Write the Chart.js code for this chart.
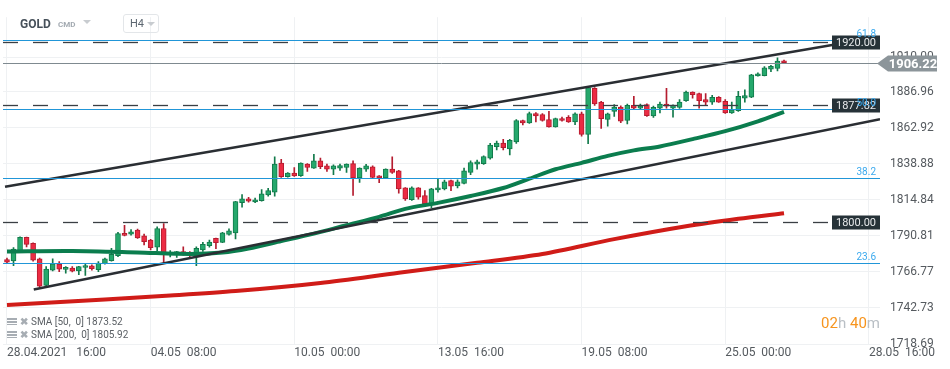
<!DOCTYPE html>
<html>
<head>
<meta charset="utf-8">
<script src="https://cdn.jsdelivr.net/npm/chart.js@4.4.1/dist/chart.umd.min.js"></script>
<style>
body { margin: 0; background: #fff; font-family: Roboto, "Noto Sans", sans-serif; }
#wrap { position: relative; width: 950px; height: 369px; overflow: hidden; }
#chart { position: absolute; left: 0; top: 0; }
.hdr { position: absolute; left: 20px; top: 17px; font-size: 12px; font-weight: bold; color: #46505a; }
.cmd { position: absolute; left: 58px; top: 20px; font-size: 8px; color: #a3aab1; font-weight: bold; }
.tri { position: absolute; width: 0; height: 0; border-left: 4px solid transparent; border-right: 4px solid transparent; border-top: 4px solid #c8ccd0; }
.tf { position: absolute; left: 123px; top: 14px; width: 34px; height: 17px; border: 1px solid #e3e6e9; border-radius: 3px; }
.tf span { position: absolute; left: 6px; top: 2px; font-size: 11px; color: #5d6771; }
.leg { position: absolute; left: 7px; font-size: 10px; color: #5a5f64; white-space: pre; }
.leg i { display: inline-block; width: 10px; height: 7px; margin-right: 3px; vertical-align: 0;
  background: linear-gradient(#a7adb3 0 2px, transparent 2px 3px, #a7adb3 3px 5px, transparent 5px 6px, #a7adb3 6px 7px); }
.leg b { color: #a7adb3; font-size: 10px; margin-right: 3px; }
.timer { position: absolute; right: 70px; top: 314px; font-size: 15px; }
.timer .o { color: #f7941d; }
.timer .g { color: #b9bfc5; }
</style>
</head>
<body>
<div id="wrap">
  <canvas id="chart" width="950" height="369"></canvas>
  <div class="hdr">GOLD</div>
  <div class="cmd">CMD</div>
  <div class="tri" style="left:83px;top:20px"></div>
  <div class="tf"><span>H4</span><div class="tri" style="left:23px;top:7px"></div></div>
  <div class="leg" style="top:316px"><i></i><b>✖</b>SMA [50,  0] 1873.52</div>
  <div class="leg" style="top:329px"><i></i><b>✖</b>SMA [200,  0] 1805.92</div>
  <div class="timer"><span class="o">02</span><span class="g">h</span> <span class="o">40</span><span class="g">m</span></div>
</div>
<script>
// GOLD H4 candles, 28.04.2021 16:00 onwards
let open = [1775.0,1774.1,1780.3,1789.8,1785.8,1775.4,1757.8,1768.0,1771.9,1768.5,1769.3,1767.5,1769.7,1770.8,1768.2,1772.3,1774.3,1777.6,1792.4,1791.9,
  1794.6,1790.8,1788.0,1783.2,1795.7,1778.5,1779.0,1779.9,1778.7,1776.8,1781.4,1784.2,1789.1,1786.5,1791.8,1792.8,1812.9,1815.5,1813.5,1814.2,
  1818.1,1819.9,1839.3,1830.3,1832.7,1830.9,1838.6,1836.0,1840.8,1837.5,1835.3,1836.0,1836.4,1839.0,1829.4,1835.3,1836.9,1830.9,1829.4,1835.3,
  1834.2,1822.8,1814.9,1822.8,1817.7,1812.2,1821.5,1822.1,1827.6,1824.1,1825.8,1833.1,1838.6,1839.0,1842.6,1850.3,1852.7,1848.8,1853.4,1867.7,
  1866.1,1872.3,1871.6,1868.4,1863.5,1869.0,1869.9,1866.8,1872.1,1858.5,1889.2,1880.0,1868.4,1873.8,1876.7,1867.7,1877.8,1876.0,1878.3,1870.8,
  1876.0,1878.7,1876.0,1876.5,1880.9,1886.6,1885.7,1881.6,1880.0,1883.1,1880.5,1872.7,1874.2,1882.6,1883.3,1897.4,1897.6,1902.0,1902.5,1907.4];
let high = [1775.9,1782.9,1790.2,1790.0,1786.2,1776.0,1770.3,1775.4,1773.6,1770.3,1770.3,1770.5,1771.9,1771.5,1773.6,1776.0,1782.5,1793.1,1797.9,1795.0,
  1795.3,1792.0,1788.5,1796.8,1799.0,1781.0,1780.5,1783.4,1780.3,1783.4,1786.5,1788.0,1789.3,1793.2,1795.5,1813.8,1818.4,1816.5,1816.0,1821.6,
  1822.5,1843.5,1841.9,1833.0,1836.4,1839.5,1839.0,1845.2,1842.6,1838.6,1838.2,1838.6,1838.8,1840.8,1836.2,1838.5,1837.5,1831.0,1835.5,1843.5,
  1834.5,1823.0,1823.5,1823.0,1821.0,1822.5,1828.7,1828.0,1828.0,1828.2,1836.0,1840.8,1841.3,1844.1,1852.5,1854.0,1855.1,1855.1,1868.4,1868.0,
  1873.4,1873.0,1872.3,1873.8,1869.3,1870.0,1871.0,1872.8,1873.4,1890.3,1889.7,1880.5,1872.7,1878.3,1877.5,1878.7,1883.8,1878.7,1878.8,1877.3,
  1880.0,1889.2,1878.2,1881.6,1887.3,1886.8,1886.0,1885.7,1884.5,1883.6,1881.6,1880.0,1887.1,1888.2,1898.5,1899.5,1903.6,1904.5,1909.5,1908.0];
let low = [1772.3,1771.0,1779.8,1783.4,1774.0,1756.5,1757.1,1767.5,1767.0,1766.0,1766.7,1764.9,1764.4,1768.0,1767.0,1772.0,1774.0,1776.9,1790.8,1791.2,
  1789.1,1784.7,1781.5,1780.9,1772.6,1776.8,1776.5,1778.0,1776.0,1771.0,1780.5,1783.2,1782.2,1786.3,1791.3,1788.8,1810.0,1813.3,1813.0,1814.0,
  1817.3,1817.2,1829.8,1830.0,1830.5,1830.5,1833.8,1835.8,1835.6,1833.8,1831.6,1834.5,1833.1,1817.7,1826.5,1833.8,1829.2,1826.3,1829.0,1832.5,
  1819.2,1814.4,1814.4,1815.3,1811.5,1809.6,1820.0,1821.5,1821.0,1822.8,1825.4,1831.6,1835.3,1838.5,1841.9,1848.1,1848.1,1844.8,1852.4,1864.8,
  1865.7,1866.8,1867.2,1863.3,1863.2,1867.3,1866.4,1865.0,1857.3,1852.3,1877.8,1862.5,1863.9,1870.5,1866.2,1865.5,1875.5,1874.9,1870.5,1869.8,
  1872.7,1876.0,1869.9,1875.8,1880.4,1882.6,1876.0,1877.8,1878.5,1879.8,1872.5,1872.5,1873.8,1880.0,1883.0,1897.2,1897.4,1900.3,1900.7,1906.0];
let close = [1773.3,1782.0,1789.8,1785.1,1774.6,1757.2,1768.6,1772.1,1768.6,1769.5,1767.3,1770.3,1771.0,1769.0,1772.6,1775.4,1778.5,1792.4,1791.1,1793.5,
  1789.5,1786.9,1782.9,1795.7,1779.6,1779.8,1779.8,1779.0,1778.0,1782.5,1785.1,1786.7,1786.2,1792.8,1794.1,1813.7,1815.5,1814.0,1814.9,1818.8,
  1821.0,1838.6,1830.3,1832.7,1830.7,1839.3,1836.4,1840.8,1836.9,1835.3,1837.5,1837.7,1838.6,1829.4,1836.0,1837.5,1829.8,1829.4,1835.3,1833.1,
  1822.1,1815.5,1822.8,1816.6,1812.2,1822.1,1822.8,1826.9,1823.9,1826.9,1834.2,1839.7,1840.2,1843.7,1851.4,1852.7,1849.6,1854.5,1867.7,1866.1,
  1872.3,1870.7,1867.7,1863.5,1869.0,1867.7,1866.8,1872.1,1858.5,1889.7,1878.7,1869.0,1872.1,1876.7,1867.2,1877.8,1876.0,1877.3,1871.0,1876.5,
  1878.7,1877.2,1878.0,1880.0,1886.6,1884.9,1880.9,1880.0,1883.1,1880.0,1872.7,1874.9,1883.8,1884.4,1898.1,1898.9,1902.9,1903.8,1907.4,1906.22];

// moving averages (candle index, value)
let sma50Idx = [0, 10, 20, 28, 33, 37, 42, 47, 52, 57, 61, 66, 71, 76, 80, 84, 88, 92, 96, 100, 105, 110, 115, 119];
let sma50Val = [1780.4, 1780.7, 1779.7, 1778.7, 1779.7, 1782.4, 1787.3, 1792.3, 1797.9, 1803.5, 1808.8, 1812.8, 1817.4, 1822.7,
  1828.9, 1835.2, 1839.5, 1844.1, 1847.8, 1850.4, 1855.3, 1860.6, 1867.2, 1873.52];
let sma200Idx = [0, 15, 25, 35, 48, 60, 72, 82, 93, 104, 112, 119];
let sma200Val = [1744.7, 1748.4, 1751.0, 1754.0, 1759.4, 1766.2, 1772.8, 1778.7, 1788.6, 1797.2, 1802.2, 1805.92];

// channel lines
let upperLine = [[-0.3, 1823.6], [126.6, 1918.3]];
let lowerLine = [[4.1, 1755.0], [133.7, 1868.6]];

// levels
let levels = [1920.00, 1877.82, 1800.00];
let fibLevels = [1921.6, 1875.6, 1829.1, 1772.6];
let fibLabels = ['61.8', '50.0', '38.2', '23.6'];
let lastPrice = 1906.22;

let xTickIdx = [0, 22, 44, 66, 88, 110, 132];
let xTickLabels = ['28.04.2021   16:00', '04.05  08:00', '10.05  00:00', '13.05  16:00', '19.05  08:00', '25.05  00:00', '28.05  16:00'];
let yTicks = [1718.69, 1742.73, 1766.77, 1790.81, 1814.84, 1838.88, 1862.92, 1886.96, 1910.00];
let yTickLabels = ['1718.69', '1742.73', '1766.77', '1790.81', '1814.84', '1838.88', '1862.92', '1886.96', '1910.00'];

let upFill = '#25a86c', upLine = '#127a4b', downFill = '#ec2b43', downLine = '#b51c2f';
let isUp = close.map((c, i) => c >= open[i]);

let levelsPlugin = {
    id: 'levels',
    afterDatasetsDraw(chart) {
        let ctx = chart.ctx, a = chart.chartArea, ys = chart.scales.y;
        ctx.save();
        // fibonacci lines
        fibLevels.forEach((v, i) => {
            let y = Math.round(ys.getPixelForValue(v)) + 0.5;
            ctx.strokeStyle = '#2196d8';
            ctx.lineWidth = 1.2;
            ctx.beginPath(); ctx.moveTo(a.left, y); ctx.lineTo(a.right, y); ctx.stroke();
        });
        // current price line
        let py = Math.round(ys.getPixelForValue(lastPrice)) + 0.5;
        ctx.strokeStyle = '#7f8a90';
        ctx.lineWidth = 1;
        ctx.beginPath(); ctx.moveTo(a.left, py); ctx.lineTo(a.right, py); ctx.stroke();
        // dashed levels with boxes
        let boxW = 48, boxH = 14;
        levels.forEach(v => {
            let y = Math.round(ys.getPixelForValue(v)) + 0.5;
            ctx.strokeStyle = '#3a3f44';
            ctx.lineWidth = 1.3;
            ctx.setLineDash([15, 15]);
            ctx.beginPath(); ctx.moveTo(a.left, y); ctx.lineTo(a.right - boxW, y); ctx.stroke();
            ctx.setLineDash([]);
            ctx.fillStyle = '#263238';
            ctx.fillRect(a.right - boxW, y - boxH / 2, boxW, boxH);
            ctx.fillStyle = '#e8eaec';
            ctx.font = '11px Roboto';
            ctx.textAlign = 'center';
            ctx.textBaseline = 'middle';
            ctx.fillText(v.toFixed(2), a.right - boxW / 2, y + 0.5);
        });
        // fib labels
        fibLevels.forEach((v, i) => {
            let y = ys.getPixelForValue(v);
            ctx.fillStyle = '#3aa9ee';
            ctx.font = '10px Roboto';
            ctx.textAlign = 'right';
            ctx.textBaseline = 'alphabetic';
            ctx.fillText(fibLabels[i], a.right - 4, y - 3);
        });
        // last price arrow
        ctx.fillStyle = '#8c959a';
        ctx.beginPath();
        ctx.moveTo(a.right - 3, py);
        ctx.lineTo(a.right + 8, py - 8);
        ctx.lineTo(a.right + 57, py - 8);
        ctx.lineTo(a.right + 57, py + 8);
        ctx.lineTo(a.right + 8, py + 8);
        ctx.closePath();
        ctx.fill();
        ctx.fillStyle = '#ffffff';
        ctx.font = 'bold 13px Roboto';
        ctx.textAlign = 'center';
        ctx.textBaseline = 'middle';
        ctx.fillText(lastPrice.toFixed(2), a.right + 33, py + 1);
        ctx.restore();
    }
};

let ctx1 = document.getElementById('chart').getContext('2d');

new Chart(ctx1, {
    data: {
        datasets: [
            {
                type: 'line', label: 'upper', order: 0,
                data: upperLine.map(p => ({ x: p[0], y: p[1] })),
                borderColor: '#2a2e33', borderWidth: 2.5, pointRadius: 0
            },
            {
                type: 'line', label: 'lower', order: 0,
                data: lowerLine.map(p => ({ x: p[0], y: p[1] })),
                borderColor: '#2a2e33', borderWidth: 2.5, pointRadius: 0
            },
            {
                type: 'line', label: 'SMA 50', order: 1,
                data: sma50Idx.map((x, k) => ({ x: x, y: sma50Val[k] })),
                borderColor: '#0b7d4e', borderWidth: 4, pointRadius: 0, tension: 0.3
            },
            {
                type: 'line', label: 'SMA 200', order: 1,
                data: sma200Idx.map((x, k) => ({ x: x, y: sma200Val[k] })),
                borderColor: '#d01c18', borderWidth: 4, pointRadius: 0, tension: 0.3
            },
            {
                type: 'bar', label: 'body', order: 2, grouped: false,
                data: open.map((o, i) => ({ x: i, y: [o, close[i]] })),
                backgroundColor: isUp.map(u => u ? upFill : downFill),
                borderColor: isUp.map(u => u ? upLine : downLine),
                borderWidth: 1, borderSkipped: false, barThickness: 5, minBarLength: 2
            },
            {
                type: 'bar', label: 'wick', order: 3, grouped: false,
                data: low.map((l, i) => ({ x: i, y: [l, high[i]] })),
                backgroundColor: isUp.map(u => u ? upLine : downLine),
                barThickness: 1
            }
        ]
    },
    options: {
        responsive: false,
        animation: false,
        devicePixelRatio: 1,
        layout: { padding: { left: 3, top: 15, right: 0, bottom: 0 } },
        plugins: { legend: { display: false }, tooltip: { enabled: false } },
        scales: {
            x: {
                type: 'linear', min: -0.61, max: 133.7, offset: false,
                afterBuildTicks: s => { s.ticks = xTickIdx.map(v => ({ value: v })); },
                afterFit: s => { s.height = 25; },
                grid: { color: '#eff1f3', drawTicks: false, offset: false },
                border: { display: false },
                ticks: {
                    align: 'start', autoSkip: false, maxRotation: 0, padding: 2,
                    color: '#555a5f', font: { family: 'Roboto', size: 12 },
                    callback: (v, i) => xTickLabels[i]
                }
            },
            y: {
                position: 'right', min: 1718.69, max: 1936.6,
                afterBuildTicks: s => { s.ticks = yTicks.map(v => ({ value: v })); },
                afterFit: s => { s.width = 70; },
                grid: { color: '#eff1f3', drawTicks: false },
                border: { display: false },
                ticks: {
                    padding: 10, crossAlign: 'near',
                    color: '#555a5f', font: { family: 'Roboto', size: 12 },
                    callback: (v, i) => yTickLabels[i]
                }
            }
        }
    },
    plugins: [levelsPlugin]
});
</script>
</body>
</html>
